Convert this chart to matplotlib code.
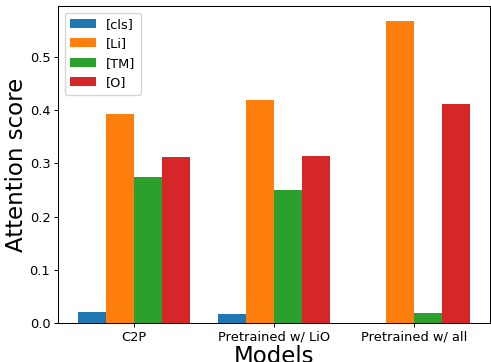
import numpy as np
import matplotlib
matplotlib.use('Agg')
import matplotlib.pyplot as plt

# --- Data ---
models = ['C2P', 'Pretrained w/ LiO', 'Pretrained w/ all']
tokens = ['[cls]', '[Li]', '[TM]', '[O]']
cls_vals = [0.021, 0.017, 0.0]
li_vals = [0.392, 0.419, 0.567]
tm_vals = [0.275, 0.250, 0.018]
o_vals = [0.311, 0.313, 0.412]

series = [cls_vals, li_vals, tm_vals, o_vals]
colors = ['#1f77b4', '#ff7f0e', '#2ca02c', '#d62728']

# --- Plotting ---
fig = plt.figure(figsize=(4.91, 3.62), dpi=100)
ax = fig.add_axes([58 / 491, 39 / 362, 432 / 491, 317 / 362])

x = np.arange(len(models))
width = 0.2
for i, (vals, lab, c) in enumerate(zip(series, tokens, colors)):
    ax.bar(x + (i - 1.5) * width, vals, width, label=lab, color=c)

ax.set_xticks(x)
ax.set_xticklabels(models, fontsize=9.4)
ax.set_yticks([0.0, 0.1, 0.2, 0.3, 0.4, 0.5])
ax.tick_params(axis='both', labelsize=9.4, length=3, pad=2.5, width=0.7)
for s in ax.spines.values():
    s.set_linewidth(0.75)
ax.set_xlabel('Models', fontsize=16.5, labelpad=1)
ax.set_ylabel('Attention score', fontsize=16.5, labelpad=1)
ax.legend(loc='upper left', fontsize=9.4)

fig.savefig('out.png', dpi=100)
